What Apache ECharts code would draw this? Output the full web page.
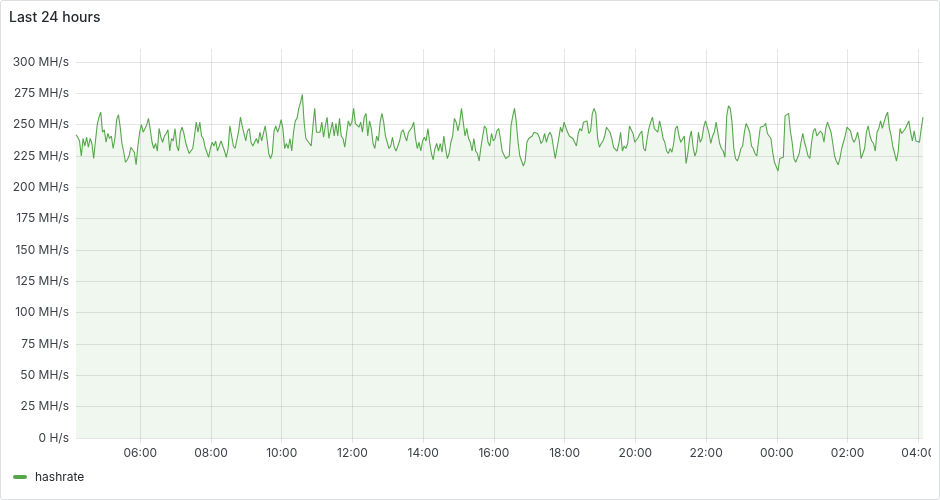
<!DOCTYPE html>
<html>
<head>
<meta charset="utf-8">
<script src="https://cdn.jsdelivr.net/npm/echarts@6/dist/echarts.min.js"></script>
<style>
html,body{margin:0;padding:0;background:#fff;}
#panel{position:relative;width:940px;height:500px;overflow:hidden;background:#fff;}
#chart{position:absolute;left:0;top:0;width:931px;height:500px;}
#border{position:absolute;left:0;top:0;width:940px;height:500px;box-sizing:border-box;border:1px solid #dcdee1;border-radius:3px;pointer-events:none;}
</style>
</head>
<body>
<div id="panel"><div id="chart"></div><div id="border"></div></div>
<script>
// ---- data (MH/s, one sample every 3 minutes) ----
const panelTitle = 'Last 24 hours';
const seriesName = 'hashrate';
const startTime = Date.UTC(2024, 0, 15, 4, 11);
const stepMinutes = 3;

const hashrate0411to0811 = [
  242, 240, 237, 225, 239, 233, 240, 232, 239, 235,
  223, 237, 250, 256, 260, 244, 246, 236, 243, 239,
  241, 231, 239, 254, 258, 248, 235, 228, 220, 222,
  225, 232, 231, 228, 218, 233, 244, 250, 244, 245,
  250, 255, 246, 236, 231, 235, 229, 247, 240, 236,
  241, 243, 246, 229, 239, 237, 247, 233, 229, 244,
  248, 243, 236, 231, 227, 229, 231, 241, 252, 244,
  252, 241, 239, 232, 228, 224, 231, 236, 233, 237
];
const hashrate0811to1211 = [
  229, 233, 237, 236, 229, 224, 231, 249, 249, 233,
  231, 231, 245, 256, 249, 243, 237, 245, 247, 236,
  233, 236, 239, 235, 244, 237, 243, 249, 239, 227,
  223, 227, 245, 249, 244, 248, 254, 247, 231, 235,
  231, 239, 229, 244, 253, 255, 263, 268, 274, 252,
  239, 237, 236, 233, 249, 263, 244, 245, 244, 252,
  240, 249, 256, 239, 240, 252, 241, 251, 241, 255,
  241, 239, 232, 243, 253, 249, 252, 263, 251, 250
];
const hashrate1211to1611 = [
  248, 252, 244, 256, 259, 241, 253, 247, 235, 231,
  241, 237, 252, 259, 252, 241, 236, 231, 233, 240,
  232, 229, 228, 237, 244, 246, 241, 237, 244, 244,
  248, 252, 239, 231, 236, 229, 237, 240, 237, 247,
  236, 227, 222, 231, 235, 229, 235, 228, 241, 231,
  223, 227, 236, 241, 255, 252, 245, 252, 263, 252,
  241, 247, 239, 236, 229, 239, 229, 227, 221, 232,
  241, 249, 247, 236, 233, 243, 237, 239, 245, 247
];
const hashrate1611to2011 = [
  239, 229, 228, 223, 224, 225, 249, 257, 263, 252,
  236, 225, 221, 217, 221, 236, 239, 240, 241, 244,
  243, 243, 240, 235, 237, 243, 236, 241, 244, 241,
  232, 223, 231, 239, 248, 244, 252, 253, 244, 241,
  241, 239, 236, 233, 243, 247, 245, 252, 253, 253,
  243, 245, 259, 263, 259, 239, 232, 235, 237, 241,
  248, 249, 244, 239, 232, 231, 229, 235, 244, 229,
  233, 231, 235, 249, 250, 243, 236, 237, 240, 243
];
const hashrate2011to0011 = [
  245, 231, 229, 239, 247, 252, 256, 247, 247, 244,
  253, 247, 239, 236, 229, 227, 231, 228, 235, 247,
  249, 241, 236, 235, 241, 219, 227, 239, 245, 232,
  225, 229, 244, 236, 239, 248, 253, 252, 243, 235,
  241, 244, 252, 253, 235, 231, 229, 224, 257, 265,
  263, 252, 231, 223, 221, 225, 231, 233, 244, 251,
  248, 244, 233, 231, 227, 225, 237, 248, 247, 249,
  251, 243, 243, 239, 228, 220, 221, 213, 223, 223
];
const hashrate0011to0411 = [
  224, 257, 256, 259, 245, 236, 223, 220, 219, 227,
  236, 243, 236, 231, 225, 223, 236, 245, 247, 241,
  241, 245, 243, 236, 247, 252, 252, 244, 235, 225,
  221, 218, 223, 231, 236, 241, 248, 247, 245, 239,
  236, 239, 244, 237, 223, 227, 231, 244, 249, 241,
  237, 235, 229, 244, 247, 253, 247, 252, 257, 260,
  247, 241, 232, 227, 221, 229, 247, 243, 245, 247,
  248, 253, 244, 237, 245, 237, 236, 236, 247, 256
];

const yTickValues = [0, 25, 50, 75, 100, 125, 150, 175, 200, 225, 250, 275, 300];
const xTickLabels = ['06:00', '08:00', '10:00', '12:00', '14:00', '16:00', '18:00', '20:00', '22:00', '00:00', '02:00', '04:00'];

// ---- build ----
const allValues = [].concat(hashrate0411to0811, hashrate0811to1211, hashrate1211to1611,
  hashrate1611to2011, hashrate2011to0011, hashrate0011to0411);
const stepMs = stepMinutes * 60000;
const seriesData = allValues.map((v, i) => [startTime + i * stepMs, v]);
const endTime = startTime + (allValues.length - 1) * stepMs;

const dayMs = 86400000;
const xTickTimes = xTickLabels.map(lbl => {
  const [h, m] = lbl.split(':').map(Number);
  let t = Date.UTC(2024, 0, 15, h, m);
  if (t < startTime) t += dayMs;
  return t;
});

function pad(n) { return (n < 10 ? '0' : '') + n; }
function fmtTime(v) { const d = new Date(v); return pad(d.getUTCHours()) + ':' + pad(d.getUTCMinutes()); }
function fmtRate(v) { return v === 0 ? '0 H/s' : v + ' MH/s'; }

const gridColor = 'rgba(36,41,46,0.12)';
const textColor = '#3d4147';
const green = '#56A64B';

const chart = echarts.init(document.getElementById('chart'), null, { renderer: 'canvas' });
chart.setOption({
  animation: false,
  backgroundColor: 'transparent',
  textStyle: { fontFamily: 'Inter' },
  title: {
    text: panelTitle,
    left: 9, top: 11, padding: 0,
    textStyle: { fontFamily: 'Inter', fontSize: 14, fontWeight: 500, color: '#24292e' }
  },
  legend: {
    left: 13, top: 471, padding: 0,
    itemWidth: 14, itemHeight: 4,
    icon: 'path://M2,0 L12,0 A2,2 0 0 1 12,4 L2,4 A2,2 0 0 1 2,0 Z',
    textStyle: { fontFamily: 'Inter', fontSize: 12, color: '#24292e', padding: [0, 0, 0, 3] },
    data: [seriesName]
  },
  grid: { left: 76, right: 8, top: 49, bottom: 62, containLabel: false, outerBoundsMode: 'none' },
  xAxis: {
    type: 'value',
    min: startTime,
    max: endTime,
    axisLine: { show: false },
    axisTick: { show: true, length: 5, lineStyle: { color: gridColor }, customValues: xTickTimes },
    splitLine: { show: true, lineStyle: { color: gridColor, width: 1 } },
    axisLabel: {
      customValues: xTickTimes,
      formatter: fmtTime,
      color: textColor, fontFamily: 'Inter', fontSize: 12, margin: 9
    }
  },
  yAxis: {
    type: 'value',
    min: 0,
    max: 310.4,
    axisLine: { show: false },
    axisTick: { show: false, customValues: yTickValues },
    splitLine: { show: true, lineStyle: { color: gridColor, width: 1 } },
    axisLabel: {
      customValues: yTickValues,
      formatter: fmtRate,
      color: textColor, fontFamily: 'Inter', fontSize: 12, margin: 7
    }
  },
  series: [{
    name: seriesName,
    type: 'line',
    data: seriesData,
    showSymbol: false,
    symbol: 'none',
    color: green,
    lineStyle: { color: green, width: 1.1 },
    areaStyle: { color: 'rgba(86,166,75,0.12)' }
  }]
});
</script>
</body>
</html>
